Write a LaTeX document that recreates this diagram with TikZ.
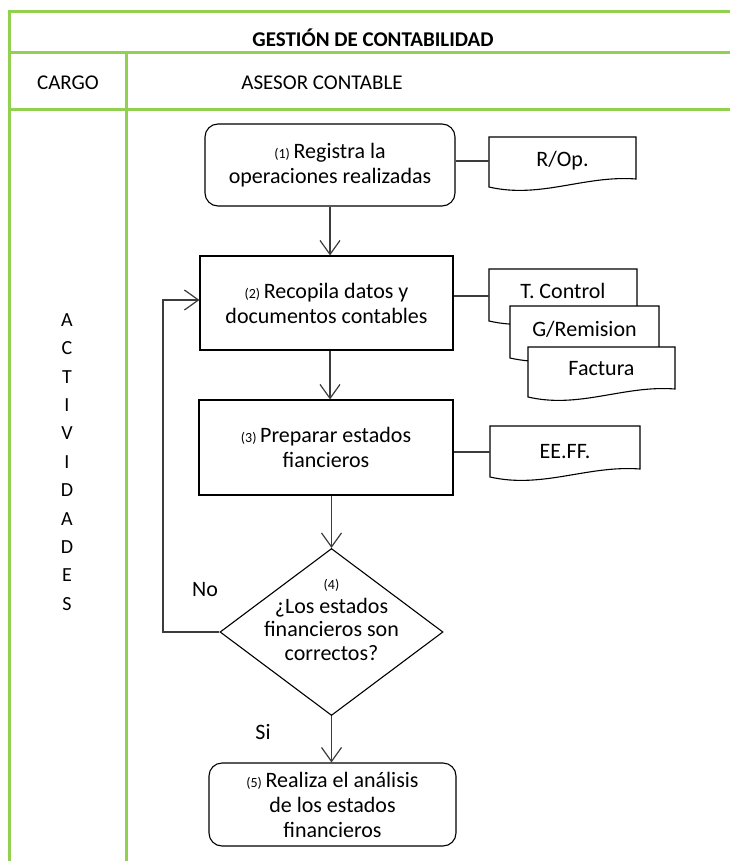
\documentclass[tikz,border=0pt]{standalone}
\usepackage{fontspec}
\setmainfont{Carlito}
\usetikzlibrary{arrows.meta,shapes.geometric,calc}
\definecolor{lanegreen}{RGB}{146,208,80}
\definecolor{flowgray}{RGB}{60,60,60}

% document symbol: left, top, right, bottom-left corner
\newcommand{\docshape}[4]{%
  \draw[docline] (#1,#2) -- (#3,#2) -- (#3,#4-8)
    .. controls ({#1+0.65*(#3-#1)},#4-12) and ({#1+0.35*(#3-#1)},#4+12) .. (#1,#4) -- cycle;}
\newcommand{\stepno}[1]{{\fontsize{14}{16}\selectfont(#1)}\,}

\begin{document}
\begin{tikzpicture}[x=1pt,y=-1pt,
  lane/.style={draw=lanegreen,line width=3pt},
  txt/.style={font=\fontsize{22}{25}\selectfont,align=center,inner sep=0pt},
  head/.style={font=\fontsize{21}{25}\selectfont,align=center,inner sep=0pt},
  proc/.style={txt,draw=black,line width=1.1pt,fill=white},
  roundproc/.style={proc,rounded corners=13pt},
  docline/.style={draw=black,line width=1.1pt,fill=white},
  doctext/.style={txt,minimum height=20pt},
  flow/.style={draw=flowgray,line width=1.2pt},
  arrow/.style={flow,-{Straight Barb[length=14pt,width=20pt,line width=1.2pt]}}
]
\useasboundingbox (0,0) rectangle (729,861);

% swimlane frame
\draw[lane] (9,861) -- (9,12) -- (735,12);
\draw[lane] (9,53) -- (735,53);
\draw[lane] (9,110) -- (735,110);
\draw[lane] (126,53) -- (126,861);

\node[head,font=\fontsize{21}{25}\selectfont\bfseries] (title) at (373,38) {GESTIÓN DE CONTABILIDAD};
\node[head] (cargo) at (68,83) {CARGO};
\node[head] (asesor) at (322,83) {ASESOR CONTABLE};
\node[head,font=\fontsize{20}{28.4}\selectfont] (actividades) at (67,462)
  {A\\C\\T\\I\\V\\I\\D\\A\\D\\E\\S};

% process steps
\node[roundproc,minimum width=250pt,minimum height=82pt] (b1) at (330,165)
  {\stepno{1}Registra la\\operaciones realizadas};
\node[proc,minimum width=253pt,minimum height=94pt] (b2) at (326.5,303)
  {\stepno{2}Recopila datos y\\documentos contables};
\node[proc,minimum width=254pt,minimum height=95pt] (b3) at (326,447.5)
  {\stepno{3}Preparar estados\\fiancieros};
\node[diamond,draw=black,line width=1.1pt,fill=white,minimum width=223pt,minimum height=167pt,inner sep=0pt] (dec) at (331.5,632) {};
\node[txt,font=\fontsize{22}{23.5}\selectfont] (dectext) at (331.5,620)
  {{\fontsize{14}{16}\selectfont(4)}\\¿Los estados\\financieros son\\correctos?};
\node[roundproc,minimum width=247pt,minimum height=83pt] (b5) at (332.5,804.5)
  {\stepno{5}Realiza el análisis\\de los estados\\financieros};

% documents
\docshape{489}{137}{636}{187}
\node[doctext,minimum width=147pt] (rop) at (562.5,161) {R/Op.};
\docshape{489}{269}{637}{321}
\node[doctext,minimum width=148pt] (tcontrol) at (563,291) {T. Control};
\docshape{510}{306}{659}{358}
\node[doctext,minimum width=149pt] (gremision) at (584.5,329) {G/Remision};
\docshape{528}{347}{675}{397}
\node[doctext,minimum width=147pt] (factura) at (601.5,369) {Factura};
\docshape{490}{426}{640}{477}
\node[doctext,minimum width=150pt] (eeff) at (565,452) {EE.FF.};

% document links
\draw[flow] (b1.east |- rop.west) -- (rop.west);
\draw[flow] ([yshift=-5pt]b2.east |- tcontrol.west) -- ([yshift=-5pt]tcontrol.west);
\draw[flow] (b3.east |- eeff.west) -- (eeff.west);

% flow arrows
\draw[arrow] (b1.south) -- (b1.south |- b2.north);
\draw[arrow] (b1.south |- b2.south) -- (b1.south |- b3.north);
\draw[arrow] (dec.north |- b3.south) -- (dec.north);
\draw[arrow] (dec.south) -- (dec.south |- b5.north);
\coordinate (loopx) at (163,632);
\draw[arrow] (dec.west) -- (loopx) |- ([yshift=3pt]b2.west);

\node[txt] (no) at (205,590) {No};
\node[txt] (si) at (263,732) {Si};
\end{tikzpicture}
\end{document}
